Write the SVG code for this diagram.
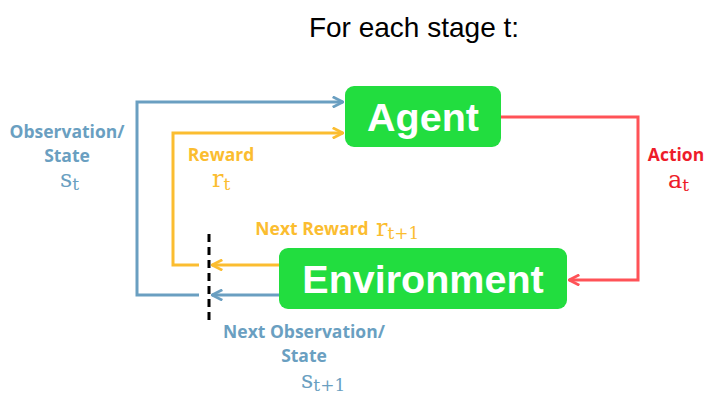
<svg xmlns="http://www.w3.org/2000/svg" width="718" height="413" viewBox="0 0 718 413">
<style>
.box{fill:#22dd3f}
.nl{font-family:"Liberation Sans",Arial,sans-serif;font-weight:bold;font-size:39.5px;fill:#fff;text-anchor:middle}
.lb{font-family:"Open Sans","Liberation Sans",sans-serif;font-weight:bold;font-size:17.5px;text-anchor:middle}
.m{font-family:"DejaVu Serif","Liberation Serif",serif;font-size:24px}
.sub{font-size:17px}
.blue{fill:#6a9fc1}.orange{fill:#fbbd30}.red{fill:#ee1c2a}
.ln{fill:none;stroke-width:3}
</style>
<defs>
<marker id="aB" viewBox="0 0 10 10" refX="9" refY="5" markerWidth="4.3" markerHeight="4.3" orient="auto"><polyline points="1,1 9,5 1,9" fill="none" stroke="#6a9fc1" stroke-width="2.2"/></marker>
<marker id="aO" viewBox="0 0 10 10" refX="9" refY="5" markerWidth="4.3" markerHeight="4.3" orient="auto"><polyline points="1,1 9,5 1,9" fill="none" stroke="#fbbd30" stroke-width="2.2"/></marker>
<marker id="aR" viewBox="0 0 10 10" refX="9" refY="5" markerWidth="4.3" markerHeight="4.3" orient="auto"><polyline points="1,1 9,5 1,9" fill="none" stroke="#ff5257" stroke-width="2.2"/></marker>
</defs>
<text x="414" y="37" font-family="Liberation Sans,Arial,sans-serif" font-size="28" text-anchor="middle" fill="#000">For each stage t:</text>
<g id="connectors">
<polyline class="ln" stroke="#6a9fc1" points="199,295 137,295 137,102 343,102" marker-end="url(#aB)"/>
<polyline class="ln" stroke="#fbbd30" points="199,265 173,265 173,133 343,133" marker-end="url(#aO)"/>
<line class="ln" stroke="#6a9fc1" x1="279" y1="295" x2="212" y2="295" marker-end="url(#aB)"/>
<line class="ln" stroke="#fbbd30" x1="279" y1="265" x2="212" y2="265" marker-end="url(#aO)"/>
<polyline class="ln" stroke="#ff5257" points="500,117 638,117 638,280 569,280" marker-end="url(#aR)"/>
<line x1="209" y1="234" x2="209" y2="324" stroke="#000" stroke-width="3" stroke-dasharray="8,5"/>
</g>
<g id="agent"><rect class="box" x="345" y="86" width="156" height="61" rx="9"/><text class="nl" x="423" y="131">Agent</text></g>
<g id="environment"><rect class="box" x="279" y="248" width="288" height="61" rx="9"/><text class="nl" x="423" y="293">Environment</text></g>
<g id="labels">
<text class="lb blue" x="67" y="138">Observation/</text>
<text class="lb blue" x="67" y="162">State</text>
<text class="m blue" x="60" y="187">s<tspan class="sub" dy="3">t</tspan></text>
<text class="lb orange" x="221" y="161">Reward</text>
<text class="m orange" x="212" y="187">r<tspan class="sub" dy="3">t</tspan></text>
<text class="lb red" x="676" y="161">Action</text>
<text class="m red" x="668" y="188">a<tspan class="sub" dy="3">t</tspan></text>
<text class="lb orange" x="312" y="235">Next Reward</text>
<text class="m orange" x="376" y="236">r<tspan class="sub" dy="3">t+1</tspan></text>
<text class="lb blue" x="304" y="338">Next Observation/</text>
<text class="lb blue" x="304" y="362">State</text>
<text class="m blue" x="301" y="388">s<tspan class="sub" dy="3">t+1</tspan></text>
</g>
</svg>
